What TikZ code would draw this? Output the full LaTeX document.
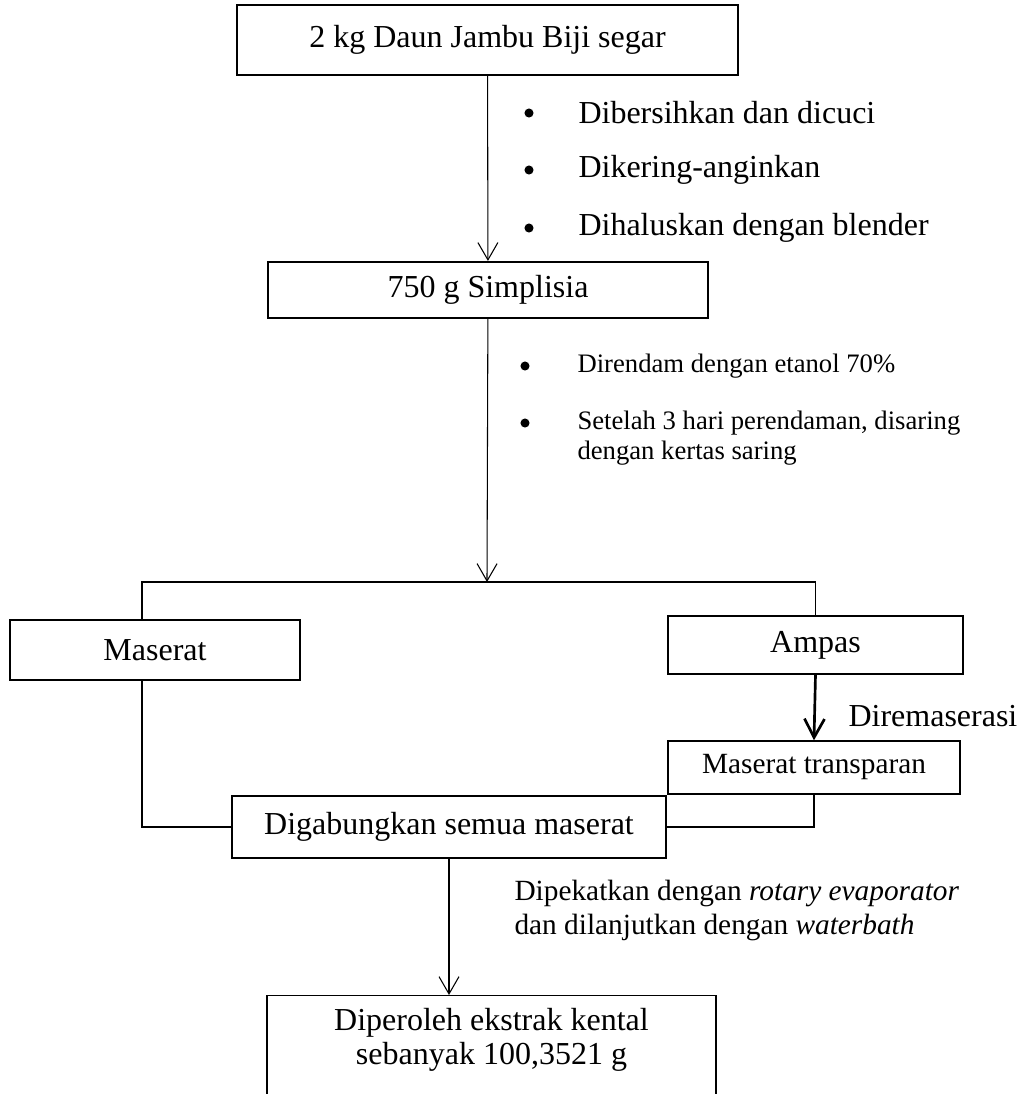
\documentclass[tikz,border=0pt]{standalone}
\usepackage{fontspec}
\setmainfont{Liberation Serif}
\usetikzlibrary{arrows.meta, positioning}

\begin{document}
\begin{tikzpicture}[
    x=0.375pt, y=-0.375pt,
    kotak/.style={
        draw, line width=0.5pt,
        inner sep=0pt,
        align=center,
        font=\fontsize{12}{12.75}\selectfont
    },
    utama/.style={kotak, line width=0.8pt},
    panah/.style={line width=0.4pt, -{Straight Barb[length=6.5pt,width=7.5pt]}},
    tebal/.style={line width=1pt, -{Straight Barb[length=7pt,width=7.5pt]}},
    garis/.style={line width=0.5pt},
    titik/.style={circle, fill, inner sep=0pt, minimum size=3.4pt},
    ket/.style={anchor=west, align=left, inner sep=0pt, font=\fontsize{12}{12.75}\selectfont},
    ketkecil/.style={anchor=west, align=left, inner sep=0pt, font=\fontsize{10}{11.25}\selectfont}
]
\useasboundingbox (0,0) rectangle (1021,1094);
\clip (0,0) rectangle (1021,1094);

% ------- Bahan awal -------
\node[utama, minimum width=187.9pt, minimum height=26.25pt] (daun) at (487.5,40)
    {2 kg Daun Jambu Biji segar};
\node[utama, minimum width=165pt, minimum height=21pt] (simplisia) at (488,290)
    {750 g Simplisia};
\draw[panah] (daun) -- (simplisia);

% perlakuan awal
\foreach \y/\t [count=\i] in {113/Dibersihkan dan dicuci, 170/Dikering-anginkan, 228/Dihaluskan dengan blender} {
    \node[titik] (ta\i) at (529,\y) {};
    \node[ket] (ka\i) at (578,\y) {\t};
}

% ------- Maserasi -------
\coordinate (cabang) at (487,582);
\coordinate (kiri) at (142,582);
\draw[panah] (simplisia) -- (cabang);
\node[titik] (tb1) at (525,366) {};
\node[ketkecil] (kb1) at (577,366) {Direndam dengan etanol 70\%};
\node[titik] (tb2) at (525,423) {};
\node[ketkecil] (kb2) at (577,438)
    {Setelah 3 hari perendaman, disaring\\dengan kertas saring};

% ------- Maserat dan Ampas -------
\node[kotak, minimum width=108.75pt, minimum height=22.5pt] (maserat) at (155,650) {Maserat};
\node[kotak, minimum width=110.6pt, minimum height=21.75pt] (ampas) at (815.5,645) {Ampas};
\draw[garis] (kiri |- maserat.north) -- (kiri) -- (ampas.north |- kiri) -- (ampas.north);

\node[kotak, minimum width=109.5pt, minimum height=19.9pt, font=\fontsize{11}{12}\selectfont]
    (transparan) at (814,767.5) {Maserat transparan};
\draw[tebal] (ampas.south) -- (transparan.north);
\node[ket] (remaserasi) at (848,716) {Diremaserasi};

% ------- Penggabungan -------
\node[kotak, minimum width=162.75pt, minimum height=23.25pt] (gabung) at (449,827)
    {Digabungkan semua maserat};
\draw[garis] (kiri |- maserat.south) |- (gabung.west);
\draw[garis] (transparan.south) |- (gabung.east);

% ------- Hasil -------
\node[kotak, minimum width=168.4pt, minimum height=60pt, anchor=north] (hasil) at (491.5,995) {};
\node[font=\fontsize{12}{12.75}\selectfont, align=center] (hasilteks) at (491.5,1040)
    {Diperoleh ekstrak kental\\sebanyak 100,3521 g};
\draw[panah] (gabung.south) -- (gabung.south |- hasil.north);
\node[ket, font=\fontsize{11}{12.75}\selectfont] (pekat) at (514,910)
    {Dipekatkan dengan \textit{rotary evaporator}\\dan dilanjutkan dengan \textit{waterbath}};
\end{tikzpicture}
\end{document}
